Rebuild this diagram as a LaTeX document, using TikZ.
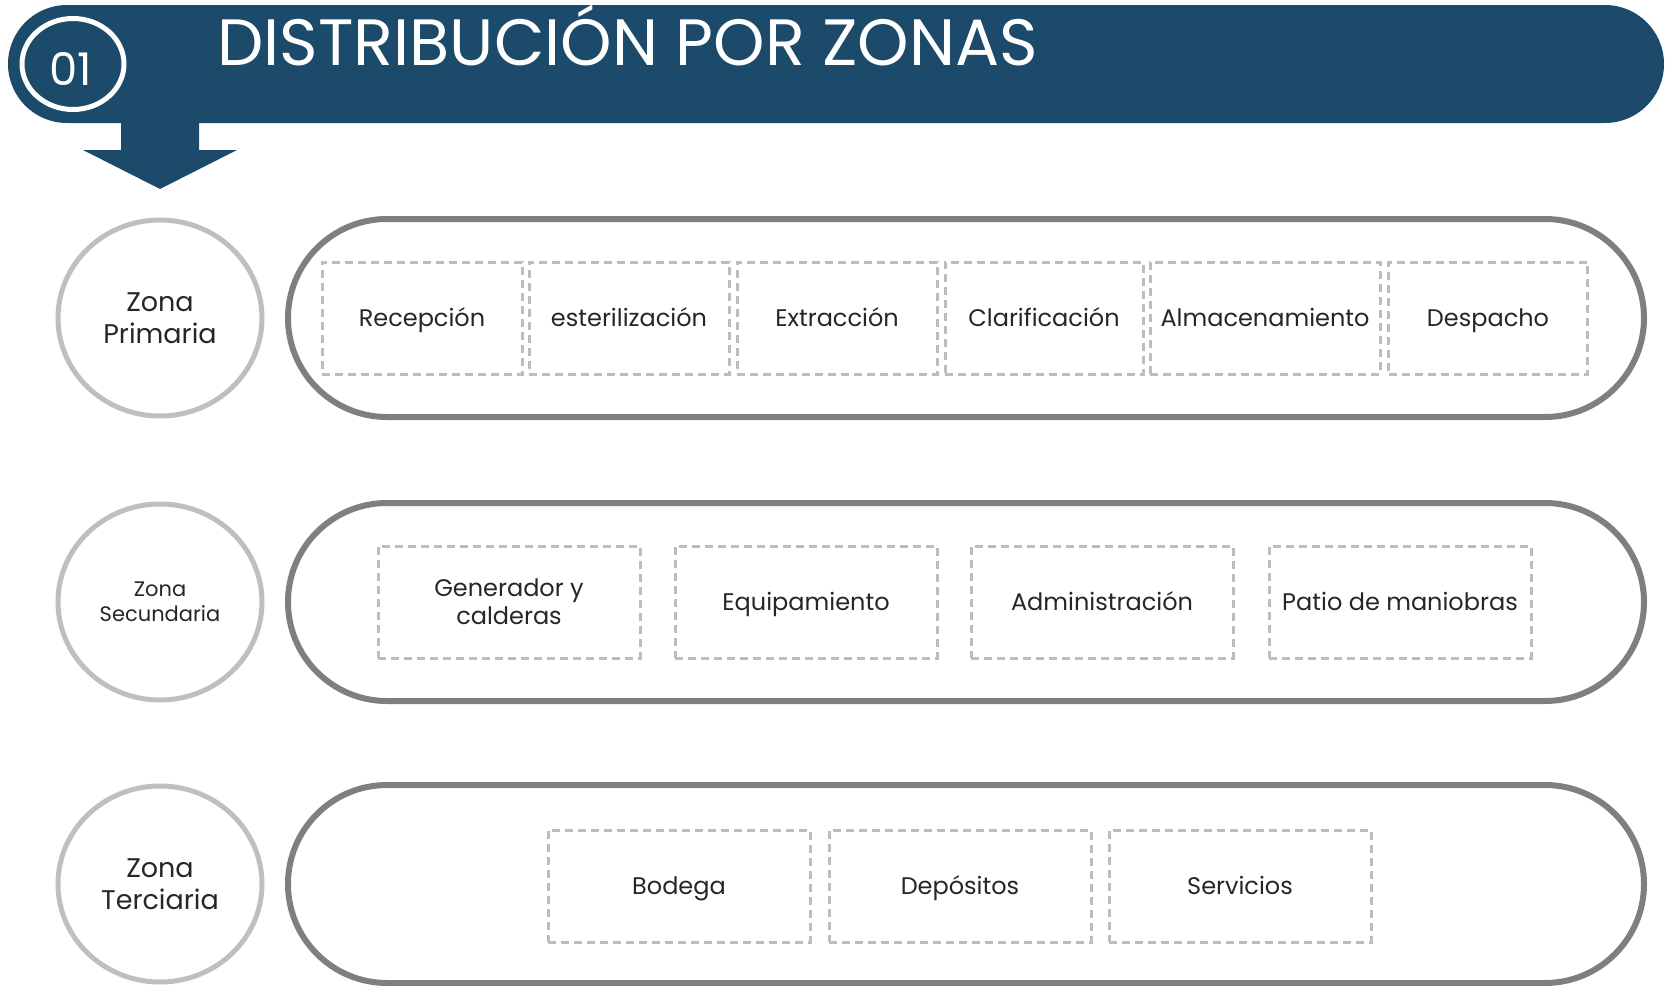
\documentclass[tikz,border=0pt]{standalone}
\usepackage{fontspec}
\setmainfont{Poppins}
\usetikzlibrary{shapes.misc,shapes.geometric}
\definecolor{hdrblue}{HTML}{1B4A6B}
\definecolor{ringgray}{HTML}{BFBFBF}
\definecolor{pillgray}{HTML}{7F7F7F}
\definecolor{dashgray}{HTML}{BDBDBD}
\definecolor{txtgray}{HTML}{262626}
\tikzset{
  pill/.style={rounded rectangle, draw=pillgray, line width=6pt, minimum width=1356pt, minimum height=198pt, inner sep=0pt},
  zonecircle/.style={ellipse, draw=ringgray, line width=5pt, minimum width=204pt, minimum height=196pt, inner sep=0pt, align=center, text=txtgray, font=\fontsize{27}{32}\selectfont},
  stagebox/.style={draw=dashgray, line width=3pt, dash pattern=on 8pt off 5pt, minimum height=112pt, inner sep=0pt, align=center, text=txtgray, font=\fontsize{24}{28}\selectfont},
  stage/.style={stagebox, text height=17pt, text depth=1pt},
}
\begin{document}
\begin{tikzpicture}[x=1pt,y=-1pt]
\useasboundingbox (0,0) rectangle (1670,985);
% header
\node[rounded rectangle, fill=hdrblue, minimum width=1656pt, minimum height=118pt, inner sep=0pt] (header) at (836,64) {};
\node[ellipse, draw=white, line width=5pt, minimum width=102pt, minimum height=91pt, inner sep=0pt] (num) at (73,64) {};
\node[text=white, font=\fontsize{45}{48}\selectfont, anchor=base, inner sep=0pt] (numtxt) at (71,85) {01};
\node[text=white, font=\fontsize{65.5}{72}\selectfont, anchor=base west] (title) at (214,65) {DISTRIBUCIÓN POR ZONAS};
\fill[hdrblue] (121,118) -- (199,118) -- (199,150) -- (237,150) -- (160,189) -- (83,150) -- (121,150) -- cycle;
% row 1
\node[zonecircle] (z1) at (160,318) {Zona\\Primaria};
\node[pill] (p1) at (966,318) {};
\node[stage, minimum width=200pt] (b11) at (422,318) {Recepción};
\node[stage, minimum width=200pt] (b12) at (629,318) {esterilización};
\node[stage, minimum width=200pt] (b13) at (837,318) {Extracción};
\node[stage, minimum width=198pt] (b14) at (1044,318) {Clarificación};
\node[stage, minimum width=230pt] (b15) at (1265,318) {Almacenamiento};
\node[stage, minimum width=199pt] (b16) at (1488,318) {Despacho};
% row 2
\node[zonecircle, font=\fontsize{21}{25}\selectfont] (z2) at (160,602) {Zona\\Secundaria};
\node[pill] (p2) at (966,602) {};
\node[stagebox, minimum width=262pt] (b21) at (509,602) {Generador y\\calderas};
\node[stage, minimum width=262pt] (b22) at (806,602) {Equipamiento};
\node[stage, minimum width=262pt] (b23) at (1102,602) {Administración};
\node[stage, minimum width=262pt] (b24) at (1400,602) {Patio de maniobras};
% row 3
\node[zonecircle] (z3) at (160,884) {Zona\\Terciaria};
\node[pill] (p3) at (966,884) {};
\node[stage, minimum width=262pt] (b31) at (679,886) {Bodega};
\node[stage, minimum width=262pt] (b32) at (960,886) {Depósitos};
\node[stage, minimum width=262pt] (b33) at (1240,886) {Servicios};
\end{tikzpicture}
\end{document}
